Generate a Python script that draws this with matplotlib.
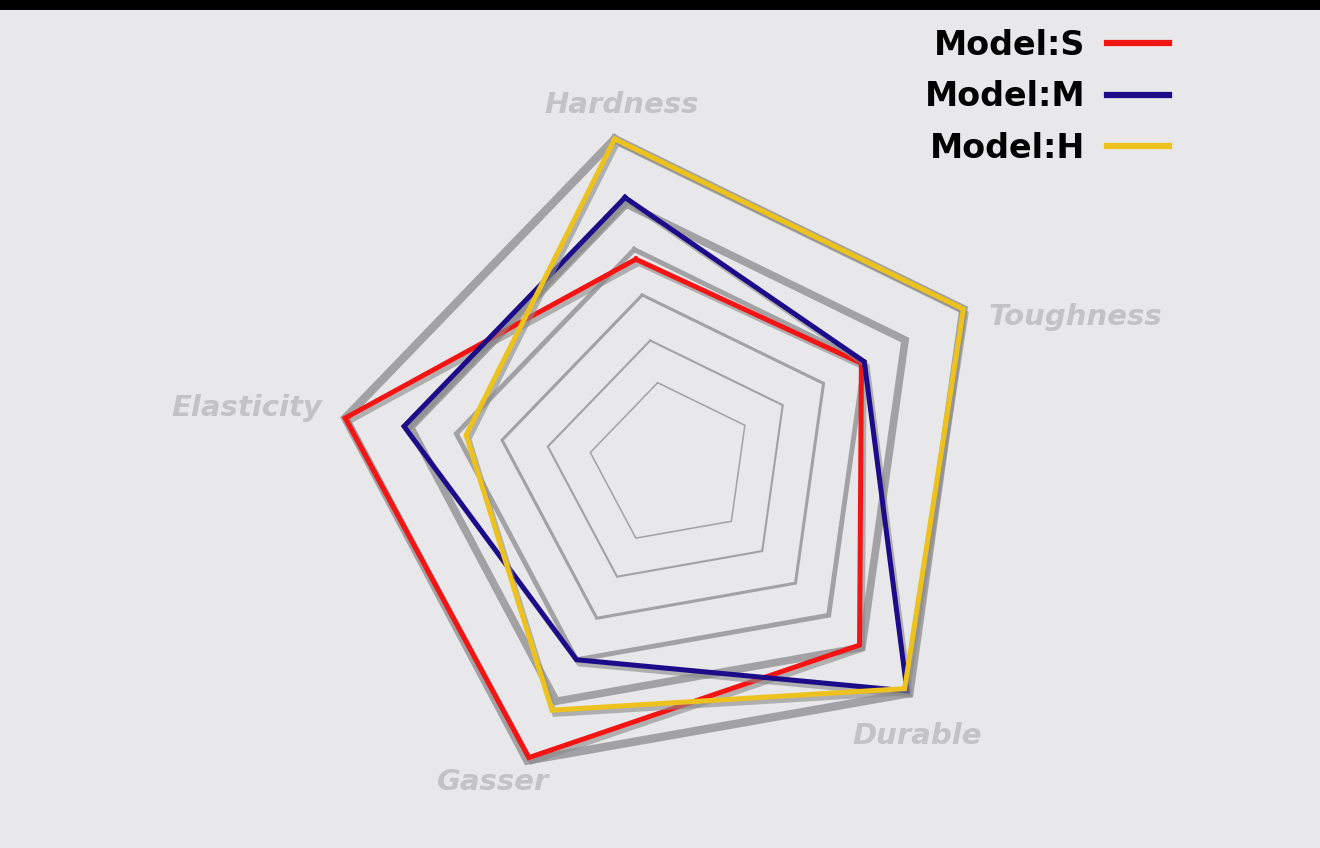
import matplotlib.pyplot as plt
import matplotlib.patheffects as pe
import numpy as np

# categories and model scores (0-100 scale, outer ring = 100)
categories = ['Hardness', 'Toughness', 'Durable', 'Gasser', 'Elasticity']
model_s = [63, 65, 79, 99, 100]
model_m = [82, 66, 99, 66, 82]
model_h = [100, 100, 98, 83, 63]
ring_levels = [25, 38, 52, 66, 80, 100]

series_names = ['Model:S', 'Model:M', 'Model:H']
series_colors = ['#f41414', '#1c0c8a', '#eec21c']

ring_widths = [1.1, 1.5, 2.2, 3.5, 5.5, 6.0]
# label placement (theta in degrees, radius) around the web
label_pos = [(2.0, 110), (80, 130), (148, 111), (219.4, 110.6), (287.5, 130)]

bg = '#e8e8ea'
fig = plt.figure(figsize=(13.2, 8.48), dpi=100)
fig.patch.set_facecolor(bg)

# black strip at the top
top = fig.add_axes([0, 1 - 10 / 848, 1, 10 / 848])
top.set_facecolor('black')
top.set_xticks([])
top.set_yticks([])
for s in top.spines.values():
    s.set_visible(False)

ax = fig.add_axes([0.2591, 0.0637, 0.5, 0.7783], projection='polar')
ax.set_facecolor(bg)
ax.patch.set_alpha(0)
ax.set_theta_offset(np.radians(100))
ax.set_theta_direction(-1)
ax.set_ylim(0, 100)
ax.grid(False)
ax.spines['polar'].set_visible(False)
ax.set_xticks([])
ax.set_yticks([])

n = len(categories)
theta = np.linspace(0, 2 * np.pi, n, endpoint=False)
theta_c = np.append(theta, theta[0])

# pentagon rings
for lvl, lw in zip(ring_levels, ring_widths):
    ax.plot(theta_c, [lvl] * (n + 1), color='#a2a2a4', lw=lw, clip_on=False,
            solid_joinstyle='miter', zorder=1)

shadow = [pe.SimpleLineShadow(offset=(2, -3), shadow_color='#8a8a8a', alpha=0.6),
          pe.Normal()]
for vals, name, col in zip([model_s, model_m, model_h], series_names, series_colors):
    v = list(vals) + [vals[0]]
    ax.plot(theta_c, v, color=col, lw=3.6, label=name, clip_on=False,
            solid_joinstyle='miter', path_effects=shadow, zorder=3)

for cat, (t, r) in zip(categories, label_pos):
    ax.text(np.radians(t), r, cat, ha='center', va='center', fontsize=21,
            fontweight='bold', fontstyle='italic', color='#c3c3c6',
            family=['DejaVu Sans'])

leg = fig.legend(loc='upper right', bbox_to_anchor=(0.908, 1.001), frameon=False,
                 markerfirst=False, handlelength=1.85, handletextpad=0.65,
                 labelspacing=0.55, prop={'family': 'DejaVu Sans', 'weight': 'bold', 'size': 24})
for line in leg.get_lines():
    line.set_linewidth(4.5)
    line.set_path_effects([])

fig.savefig('out.png', dpi=100, facecolor=fig.get_facecolor())
